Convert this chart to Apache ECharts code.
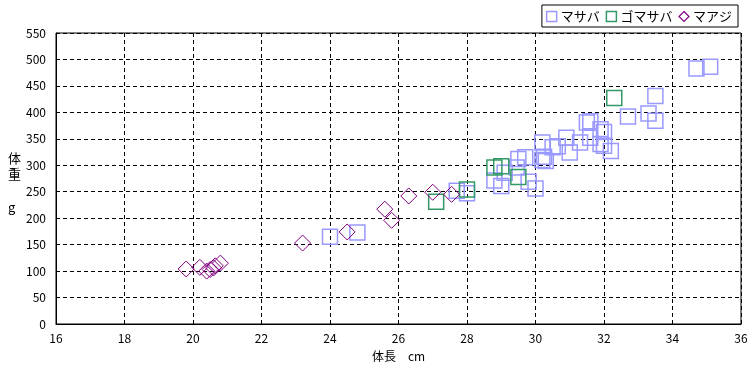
<!DOCTYPE html>
<html><head><meta charset="utf-8">
<script src="https://cdn.jsdelivr.net/npm/echarts@6/dist/echarts.min.js"></script>
<style>html,body{margin:0;padding:0;background:#fff}#c{width:756px;height:373px}</style>
</head><body><div id="c"></div>
<script>
const seriesNames = ['マサバ', 'ゴマサバ', 'マアジ'];
const xTicks = [16, 36, 2];
const yTicks = [0, 550, 50];
const masaba = [
  [24.0,165],[24.8,173],[27.7,252],[28.0,247],[28.8,271],[29.0,261],[29.1,286],[29.45,296],
  [29.5,312],[29.7,315],[29.8,269],[30.0,256],[30.2,310],[30.2,343],[30.25,316],[30.3,308],
  [30.5,334],[30.65,336],[30.9,352],[31.0,324],[31.3,343],[31.5,381],[31.6,383],[31.6,352],
  [31.9,368],[31.9,340],[32.0,363],[32.0,337],[32.2,327],[32.7,392],[33.3,398],[33.5,431],
  [33.5,384],[34.7,483],[35.1,486]
];
const gomasaba = [
  [27.1,231],[28.0,254],[28.8,296],[29.0,298],[29.5,278],[32.3,427]
];
const maaji = [
  [19.8,104],[20.2,107],[20.4,100],[20.5,103],[20.6,106],[20.65,110],[20.8,115],
  [23.2,153],[24.5,174],[25.6,217],[25.8,196],[26.3,242],[27.0,249],[27.55,245]
];
const yTitle = '体\n重\n\ng';
const xTitle = '体長　cm';
const colors = ['#9999ff', '#339966', '#800080'];
const font = '"Noto Sans CJK JP", "DejaVu Sans", sans-serif';
const chart = echarts.init(document.getElementById('c'), null, {renderer: 'canvas'});
const mk = (name, data, symbol, size, color, lw) => ({
  name, type: 'scatter', data, symbol, symbolSize: size,
  itemStyle: {color: 'rgba(0,0,0,0)', borderColor: color, borderWidth: lw, opacity: 1},
  emphasis: {disabled: true}, animation: false
});
chart.setOption({
  backgroundColor: '#fff',
  animation: false,
  textStyle: {fontFamily: font},
  grid: {left: 56, right: 15, top: 33, bottom: 49, show: true, borderColor: '#000', borderWidth: 1, backgroundColor: '#fff'},
  graphic: [{
    type: 'text', left: 8, top: 150, silent: true,
    style: {text: yTitle, fontSize: 13, lineHeight: 16.3, fill: '#000', fontFamily: font, align: 'left'}
  }],
  legend: {
    right: 18, top: 5, orient: 'horizontal', itemGap: 6, itemWidth: 10, itemHeight: 10,
    borderColor: '#000', borderWidth: 1, padding: [5, 6, 4, 4], backgroundColor: '#fff',
    textStyle: {fontSize: 13, color: '#000', fontFamily: font, padding: [0, 0, 0, -1]},
    data: [
      {name: seriesNames[0], icon: 'rect', itemStyle: {color: '#fff', borderColor: colors[0], borderWidth: 1.5}},
      {name: seriesNames[1], icon: 'rect', itemStyle: {color: '#fff', borderColor: colors[1], borderWidth: 1.5}},
      {name: seriesNames[2], icon: 'diamond', itemStyle: {color: '#fff', borderColor: colors[2], borderWidth: 1.2}}
    ]
  },
  xAxis: {
    type: 'value', min: xTicks[0], max: xTicks[1], interval: xTicks[2],
    name: xTitle, nameLocation: 'middle', nameGap: 26,
    nameTextStyle: {fontSize: 12, color: '#000', fontFamily: font},
    axisLine: {show: true, lineStyle: {color: '#000', width: 1}},
    axisTick: {show: false},
    axisLabel: {fontSize: 12, color: '#000', margin: 8, fontFamily: font},
    splitLine: {show: true, lineStyle: {color: '#000', type: [4, 3], width: 1}}
  },
  yAxis: {
    type: 'value', min: yTicks[0], max: yTicks[1], interval: yTicks[2],
    axisLine: {show: true, lineStyle: {color: '#000', width: 1}},
    axisTick: {show: false},
    axisLabel: {fontSize: 12, color: '#000', margin: 10, fontFamily: font},
    splitLine: {show: true, lineStyle: {color: '#000', type: [4, 3], width: 1}}
  },
  series: [
    mk(seriesNames[0], masaba, 'rect', 15, colors[0], 1.5),
    mk(seriesNames[1], gomasaba, 'rect', 15, colors[1], 1.5),
    mk(seriesNames[2], maaji, 'diamond', 16, colors[2], 1)
  ]
});
</script></body></html>
